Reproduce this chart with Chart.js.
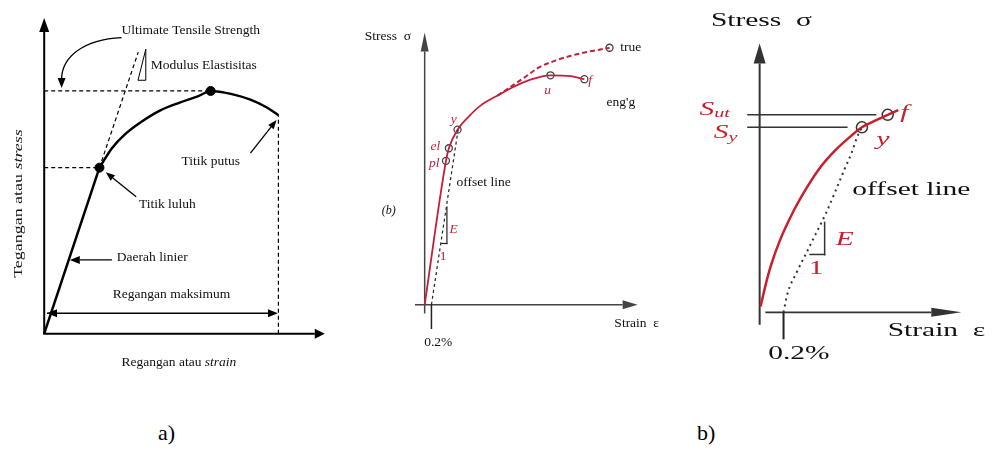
<!DOCTYPE html>
<html>
<head>
<meta charset="utf-8">
<script src="https://cdn.jsdelivr.net/npm/chart.js"></script>
<style>
  body { margin: 0; background: #fff; width: 997px; height: 450px; position: relative; overflow: hidden; font-family: "Liberation Serif", serif; }
  canvas { position: absolute; top: 0; }
  #ca { left: 0; }
  #cb { left: 340px; }
  #cc { left: 680px; }
  .lab { position: absolute; top: 422px; font-size: 22px; line-height: 22px; color: #000; }
</style>
</head>
<body>
<canvas id="ca" width="340" height="380"></canvas>
<canvas id="cb" width="330" height="380"></canvas>
<canvas id="cc" width="317" height="380"></canvas>
<div class="lab" style="left:158px">a)</div>
<div class="lab" style="left:697px">b)</div>
<script>
// a) generic curve, normalised so that break strain = 100 and UTS = 100
const aElasticStrain = [0, 23.5];
const aElasticStress = [0, 68.4];
const aPlasticStrain = [23.5, 28.8, 34.2, 41.2, 49.4, 57.6, 65.8, 70.8, 79.4, 87.7, 94.7, 99.6];
const aPlasticStress = [68.4, 76.4, 82, 87.2, 92, 95.2, 98, 100, 98.8, 96.4, 93.2, 90];
const aKeyStrain = [23.5, 70.8];   // titik luluh, UTS
const aKeyStress = [68.4, 100];
const aModulusStrain = [23.5, 40];
const aModulusStress = [68.4, 116];

// b) left: strain in %, stress with u = 100
const bEngStrain = [0, 0.629, 0.714, 0.971, 1.286, 1.657, 2.143, 2.6, 3.086, 3.714, 4.314, 4.714];
const bEngStress = [0, 62.7, 68.2, 76.3, 81.8, 86.9, 91.1, 94.8, 97.9, 100, 99.6, 98.3];
const bTrueStrain = [2.143, 2.6, 3.0, 3.371, 3.857, 4.314, 4.8, 5.286, 5.457];
const bTrueStress = [91.1, 95.6, 99.6, 103.4, 106.4, 108.5, 110.2, 111.5, 112.0];
const bMarkStrain = [0.629, 0.714, 0.971, 3.714, 4.714, 5.457]; // pl, el, y, u, f, true
const bMarkStress = [62.7, 68.2, 76.3, 100, 98.3, 112.0];
const bOffsetStrain = [0.2, 1.0];
const bOffsetStress = [0, 77.5];

// b) right: strain in %, stress with S_ut = 100
const cStrain = [0.008, 0.048, 0.096, 0.168, 0.288, 0.392, 0.496, 0.632, 0.768, 0.856, 0.976, 1.072, 1.16];
const cStress = [3, 13.4, 24, 36.2, 51.8, 62.9, 72.5, 82, 89.5, 93.7, 97.3, 100, 102.4];
const cOffsetStrain = [0.2, 0.232, 0.312, 0.392, 0.472, 0.552, 0.632, 0.712, 0.768, 0.816, 0.856];
const cOffsetStress = [0, 9.3, 20.5, 30.2, 40, 49.8, 61, 72.7, 80.5, 88.8, 93.7];
const cMarkStrain = [0.856, 1.072]; // y, f
const cMarkStress = [93.7, 100];
const cLevelStress = [100, 93.7];   // S_ut, S_y
const cLevelEnd = [0.976, 0.736];

const SERIF = '"Liberation Serif", "Times New Roman", serif';
const RED1 = '#c41e3a';
const RED2 = '#c8202a';

function frame(w, h, ox, oy, ux, uy) {
  return {
    x: { type: 'linear', display: false, min: -ox / ux, max: (w - ox) / ux },
    y: { type: 'linear', display: false, min: -(h - oy) / uy, max: oy / uy }
  };
}
function xy(xs, ys) { return xs.map((x, i) => ({ x: x, y: ys[i] })); }
function lineSet(xs, ys, color, width, dash, smooth) {
  return { data: xy(xs, ys), showLine: true, borderColor: color, borderWidth: width,
    borderDash: dash || [], pointRadius: 0, tension: smooth ? 0.4 : 0,
    cubicInterpolationMode: smooth ? 'monotone' : 'default', clip: false };
}
function markSet(xs, ys, r, fill, stroke, bw) {
  return { data: xy(xs, ys), showLine: false, pointRadius: r, backgroundColor: fill,
    borderColor: stroke, borderWidth: bw, clip: false };
}

function P(c, x, y) { return [c.scales.x.getPixelForValue(x), c.scales.y.getPixelForValue(y)]; }
function seg(ctx, a, b, color, w, dash) {
  ctx.save();
  ctx.strokeStyle = color; ctx.lineWidth = w; ctx.setLineDash(dash || []);
  ctx.beginPath(); ctx.moveTo(a[0], a[1]); ctx.lineTo(b[0], b[1]); ctx.stroke();
  ctx.restore();
}
function head(ctx, from, tip, len, half, color) {
  const a = Math.atan2(tip[1] - from[1], tip[0] - from[0]);
  const bx = tip[0] - len * Math.cos(a), by = tip[1] - len * Math.sin(a);
  ctx.save();
  ctx.fillStyle = color;
  ctx.beginPath();
  ctx.moveTo(tip[0], tip[1]);
  ctx.lineTo(bx + half * Math.sin(a), by - half * Math.cos(a));
  ctx.lineTo(bx - half * Math.sin(a), by + half * Math.cos(a));
  ctx.closePath(); ctx.fill();
  ctx.restore();
  return [bx, by];
}
function arrow(ctx, from, tip, len, half, color, w) {
  const base = head(ctx, from, tip, len, half, color);
  seg(ctx, from, base, color, w);
}
// parts: [text, font, color, dy]
function runs(ctx, parts, p, o) {
  o = o || {};
  ctx.save();
  ctx.translate(p[0], p[1]);
  if (o.rot) ctx.rotate(o.rot);
  ctx.scale(o.sx || 1, 1);
  ctx.textBaseline = 'middle'; ctx.textAlign = 'left';
  let total = 0;
  parts.forEach(q => { ctx.font = q[1]; total += ctx.measureText(q[0]).width; });
  let x = o.align === 'center' ? -total / 2 : 0;
  parts.forEach(q => {
    ctx.font = q[1]; ctx.fillStyle = q[2] || '#111';
    ctx.fillText(q[0], x, q[3] || 0);
    x += ctx.measureText(q[0]).width;
  });
  ctx.restore();
}

function build(id, scales, datasets, before, after) {
  return new Chart(document.getElementById(id), {
    type: 'scatter',
    data: { datasets: datasets },
    options: {
      responsive: false, animation: false, devicePixelRatio: 1, events: [],
      layout: { padding: 0 }, scales: scales,
      plugins: { legend: { display: false }, tooltip: { enabled: false } }
    },
    plugins: [{ id: 'decor',
      beforeDatasetsDraw: c => before(c, c.ctx),
      afterDatasetsDraw: c => after(c, c.ctx) }]
  });
}

// ---------- a) ----------
const nA = aPlasticStrain.length - 1;
build('ca', frame(340, 380, 40, 338, 2.43, 2.5), [
  lineSet([0, aKeyStrain[1]], [aKeyStress[1], aKeyStress[1]], '#000', 1.2, [4, 3]),
  lineSet([0, aKeyStrain[0]], [aKeyStress[0], aKeyStress[0]], '#000', 1.2, [4, 3]),
  lineSet([aPlasticStrain[nA], aPlasticStrain[nA]], [0, aPlasticStress[nA]], '#000', 1.2, [4, 3]),
  lineSet(aModulusStrain, aModulusStress, '#000', 1.2, [4, 3]),
  lineSet(aElasticStrain, aElasticStress, '#000', 2.5),
  lineSet(aPlasticStrain, aPlasticStress, '#000', 2.5, null, true),
  markSet(aKeyStrain, aKeyStress, 4.5, '#000', '#000', 1)
], (c, ctx) => {
  const o = P(c, 0, 0);
  const yb = head(ctx, o, P(c, 0, 130), 14, 5, '#000');
  seg(ctx, o, yb, '#000', 2);
  const xb = head(ctx, o, P(c, 119.3, 0), 10, 5, '#000');
  seg(ctx, [o[0] - 1, o[1]], xb, '#000', 2);
}, (c, ctx) => {
  const f = '13.5px ' + SERIF, fi = 'italic 13.5px ' + SERIF;
  // modulus triangle
  const t1 = P(c, 39.9, 104.4), t2 = P(c, 43.2, 104.4), t3 = P(c, 43.2, 117.2);
  ctx.save(); ctx.strokeStyle = '#000'; ctx.lineWidth = 1;
  ctx.beginPath(); ctx.moveTo(t1[0], t1[1]); ctx.lineTo(t2[0], t2[1]); ctx.lineTo(t3[0], t3[1]); ctx.closePath(); ctx.stroke();
  // curved arrow to UTS level
  const s = P(c, 32.9, 122), c1 = P(c, 16.5, 121.2), c2 = P(c, 7.6, 114), e = P(c, 7.4, 105);
  ctx.lineWidth = 1.3;
  ctx.beginPath(); ctx.moveTo(s[0], s[1]); ctx.bezierCurveTo(c1[0], c1[1], c2[0], c2[1], e[0], e[1]); ctx.stroke();
  ctx.restore();
  head(ctx, [e[0], e[1] - 5], P(c, 7.4, 101.2), 10, 4, '#000');
  arrow(ctx, P(c, 87.7, 74.4), P(c, 98.8, 88), 9, 3.5, '#000', 1.3);
  arrow(ctx, P(c, 39.1, 56.4), P(c, 26.2, 66.5), 9, 3.5, '#000', 1.3);
  arrow(ctx, P(c, 28.8, 30.4), P(c, 10.9, 30.4), 10, 4, '#000', 1.3);
  const d1 = P(c, 1.2, 8.4), d2 = P(c, 99.4, 8.4);
  arrow(ctx, d1, d2, 10, 4, '#000', 1.5);
  head(ctx, d2, d1, 10, 4, '#000');
  runs(ctx, [['Ultimate Tensile Strength', f]], P(c, 32.9, 125));
  runs(ctx, [['Modulus Elastisitas', f]], P(c, 45.3, 110.4));
  runs(ctx, [['Titik putus', f]], P(c, 58.4, 70.8));
  runs(ctx, [['Titik luluh', f]], P(c, 40.3, 53.2));
  runs(ctx, [['Daerah linier', f]], P(c, 30.9, 31.6));
  runs(ctx, [['Regangan maksimum', f]], P(c, 29.2, 16));
  runs(ctx, [['Regangan atau ', f], ['strain', fi]], P(c, 32.9, -11.8));
  runs(ctx, [['Tegangan atau ', '13px ' + SERIF], ['stress', 'italic 13px ' + SERIF]], P(c, -10.7, 53.6),
    { rot: -Math.PI / 2, align: 'center', sx: 1.38 });
});

// ---------- b) left ----------
build('cb', frame(330, 380, 82, 308, 35, 2.36), [
  lineSet(bOffsetStrain, bOffsetStress, '#222', 1.2, [3, 3]),
  lineSet(bTrueStrain, bTrueStress, RED1, 2, [5, 3], true),
  lineSet(bEngStrain, bEngStress, RED1, 1.8, null, true),
  markSet(bMarkStrain, bMarkStress, 3.5, '#fff', '#444', 1.3)
], (c, ctx) => {
  const g = '#444';
  const yb = head(ctx, P(c, 0, -3.8), P(c, 0, 118.6), 19, 4, g);
  seg(ctx, P(c, 0, -3.8), yb, g, 1.5);
  const xb = head(ctx, P(c, -0.286, 0), P(c, 6.286, 0), 15, 4.5, g);
  seg(ctx, P(c, -0.286, 0), xb, g, 1.5);
  seg(ctx, P(c, 0.2, 0), P(c, 0.2, -10.6), '#222', 1.5);
}, (c, ctx) => {
  const f = '13.5px ' + SERIF, fr = 'italic 13.5px ' + SERIF;
  seg(ctx, P(c, 0.657, 26.4), P(c, 0.657, 42.8), '#222', 1.2);
  seg(ctx, P(c, 0.486, 26.7), P(c, 0.67, 26.7), '#222', 1.2);
  runs(ctx, [['Stress  σ', f]], P(c, -1.771, 116.9));
  runs(ctx, [['true', f]], P(c, 5.771, 112.3));
  runs(ctx, [["eng'g", f]], P(c, 5.371, 88.1));
  runs(ctx, [['u', fr, RED1]], P(c, 3.629, 93.2), { align: 'center' });
  runs(ctx, [['f', fr, RED1]], P(c, 4.886, 97.9), { align: 'center' });
  runs(ctx, [['y', fr, RED1]], P(c, 0.857, 80.9), { align: 'center' });
  runs(ctx, [['el', fr, RED1]], P(c, 0.314, 69.1), { align: 'center' });
  runs(ctx, [['pl', fr, RED1]], P(c, 0.286, 61.4), { align: 'center' });
  runs(ctx, [['offset line', f]], P(c, 0.943, 53.4));
  runs(ctx, [['(b)', 'italic 12px ' + SERIF]], P(c, -1.057, 40.7), { align: 'center' });
  runs(ctx, [['E', fr, RED1]], P(c, 0.857, 32.6), { align: 'center' });
  runs(ctx, [['1', f, RED1]], P(c, 0.543, 21.2), { align: 'center' });
  runs(ctx, [['0.2%', f]], P(c, 0.4, -16.5), { align: 'center' });
  runs(ctx, [['Strain  ε', f]], P(c, 5.6, -8.1));
});

// ---------- b) right ----------
build('cc', frame(317, 380, 76, 317, 125, 2.05), [
  lineSet([-0.104, cLevelEnd[0]], [cLevelStress[0], cLevelStress[0]], '#333', 1.5),
  lineSet([-0.104, cLevelEnd[1]], [cLevelStress[1], cLevelStress[1]], '#333', 1.5),
  lineSet(cOffsetStrain, cOffsetStress, '#333', 2, [2, 4], true),
  lineSet(cStrain, cStress, RED2, 2.5, null, true),
  markSet(cMarkStrain, cMarkStress, 5.5, '#fff', '#333', 1.5)
], (c, ctx) => {
  const g = '#333';
  const yb = head(ctx, P(c, 0, -6.3), P(c, 0, 136.1), 20, 6, g);
  seg(ctx, P(c, 0, -6.3), yb, g, 2);
  const xb = head(ctx, P(c, 0.048, 0), P(c, 1.688, 0), 30, 4.5, g);
  seg(ctx, P(c, 0.048, 0), xb, g, 1.8);
  seg(ctx, P(c, 0.2, 0), P(c, 0.2, -13.7), '#222', 2);
}, (c, ctx) => {
  const f = '19px ' + SERIF, fr = 'italic 19px ' + SERIF, fs = 'italic 13px ' + SERIF;
  seg(ctx, P(c, 0.544, 28.8), P(c, 0.544, 45.9), '#333', 1.5);
  seg(ctx, P(c, 0.416, 29.3), P(c, 0.55, 29.3), '#333', 1.5);
  const sx = 1.55;
  runs(ctx, [['Stress  σ', f]], P(c, -0.408, 147.5), { sx: sx });
  runs(ctx, [['S', fr, RED2], ['ut', fs, RED2, 3]], P(c, -0.504, 102.4), { sx: sx });
  runs(ctx, [['S', fr, RED2], ['y', fs, RED2, 4]], P(c, -0.384, 90.7), { sx: sx });
  runs(ctx, [['f', fr, RED2]], P(c, 1.176, 101), { sx: sx });
  runs(ctx, [['y', fr, RED2]], P(c, 1.032, 87.3), { sx: sx, align: 'center' });
  runs(ctx, [['offset line', f]], P(c, 0.776, 62), { sx: sx });
  runs(ctx, [['E', fr, RED2]], P(c, 0.712, 36.6), { sx: sx, align: 'center' });
  runs(ctx, [['1', f, RED2]], P(c, 0.472, 22), { sx: sx, align: 'center' });
  runs(ctx, [['0.2%', f]], P(c, 0.072, -21), { sx: sx });
  runs(ctx, [['Strain  ε', f]], P(c, 1.072, -9.3), { sx: sx });
});
</script>
</body>
</html>
